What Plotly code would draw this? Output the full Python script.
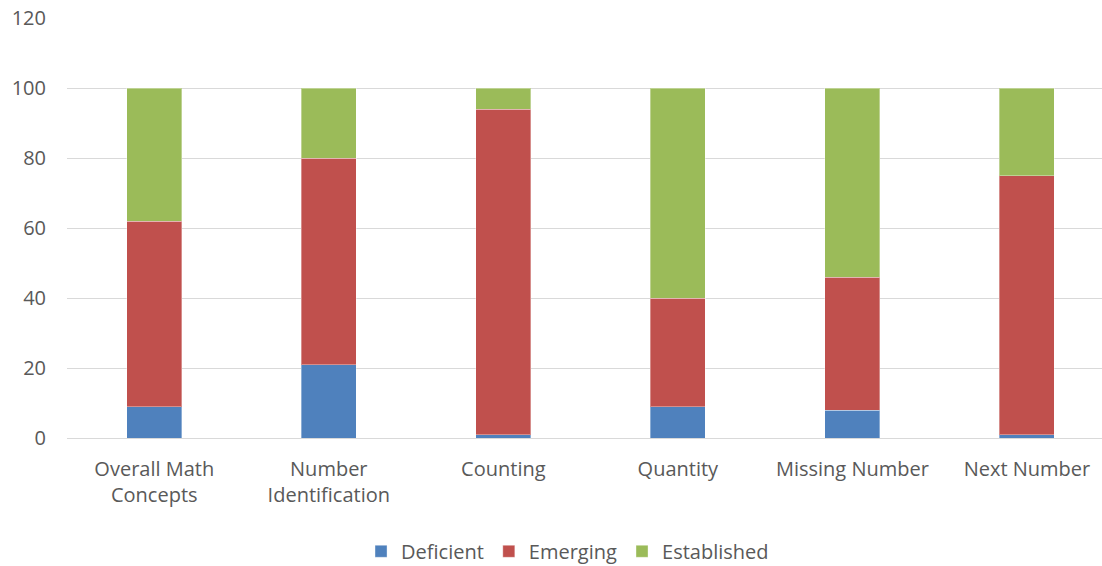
import plotly.graph_objects as go

categories = ["Overall Math<br>Concepts", "Number<br>Identification", "Counting",
              "Quantity", "Missing Number", "Next Number"]
deficient = [9, 21, 1, 9, 8, 1]
emerging = [53, 59, 93, 31, 38, 74]
established = [38, 20, 6, 60, 54, 25]
y_ticks = [0, 20, 40, 60, 80, 100, 120]

colors = {"Deficient": "#4F81BD", "Emerging": "#C0504D", "Established": "#9BBB59"}

fig = go.Figure()
for name, vals in [("Deficient", deficient), ("Emerging", emerging), ("Established", established)]:
    fig.add_trace(go.Bar(
        name=name, x=categories, y=vals, width=0.315,
        marker=dict(color=colors[name], line=dict(color="rgba(255,255,255,0.35)", width=1)),
    ))

fig.update_layout(
    barmode="stack",
    width=1102, height=566,
    margin=dict(l=67, r=0, t=18, b=128),
    plot_bgcolor="white", paper_bgcolor="white",
    font=dict(family="Open Sans, Liberation Sans, sans-serif", size=20, color="#595959"),
    showlegend=True,
    legend=dict(orientation="h", xref="container", yref="container",
                x=0.515, y=0.026, xanchor="center", yanchor="middle",
                font=dict(size=20, color="#595959"), traceorder="normal",
                itemwidth=30),
    bargap=0.6,
)
fig.update_xaxes(range=[-0.5, 5.43], showgrid=False, showline=False, ticks="",
                 ticklabelstandoff=17,
                 tickfont=dict(size=20, color="#595959"))
fig.update_yaxes(range=[0, 120], tickvals=y_ticks, showgrid=True, gridcolor="#D9D9D9",
                 gridwidth=1, zeroline=True, zerolinecolor="#D9D9D9", zerolinewidth=1,
                 ticks="", ticklabelstandoff=20,
                 tickfont=dict(size=20, color="#595959"))

fig.write_html("out.html")
